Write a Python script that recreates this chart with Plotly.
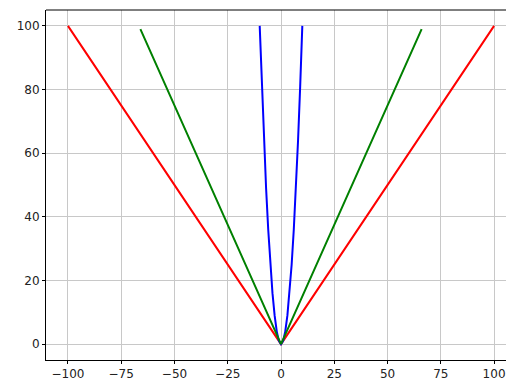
import plotly.graph_objects as go

# Data
red_x = [-100, 0, 100]
red_y = [100, 0, 100]
green_x = [-66, 0, 66]
green_y = [99, 0, 99]
blue_x = [-10, -9, -8, -7, -6, -5, -4, -3, -2, -1, 0, 1, 2, 3, 4, 5, 6, 7, 8, 9, 10]
blue_y = [100, 81, 64, 49, 36, 25, 16, 9, 4, 1, 0, 1, 4, 9, 16, 25, 36, 49, 64, 81, 100]
x_ticks = [-100, -75, -50, -25, 0, 25, 50, 75, 100]
y_ticks = [0, 20, 40, 60, 80, 100]

fig = go.Figure()
fig.add_trace(go.Scatter(x=red_x, y=red_y, mode="lines", line=dict(color="#ff0000", width=2)))
fig.add_trace(go.Scatter(x=blue_x, y=blue_y, mode="lines", line=dict(color="#0000ff", width=2)))
fig.add_trace(go.Scatter(x=green_x, y=green_y, mode="lines", line=dict(color="#008000", width=2)))

axis_common = dict(
    showgrid=True, gridcolor="#c8c8c8", gridwidth=1,
    zeroline=False, showline=True, linecolor="black", linewidth=1,
    ticks="outside", ticklen=3, tickcolor="black", tickwidth=1,
    tickfont=dict(family="DejaVu Sans", size=12, color="#222222"),
    automargin=False,
)

fig.update_layout(
    width=506, height=380,
    margin=dict(l=46, r=0, t=10, b=20),
    plot_bgcolor="white", paper_bgcolor="white",
    showlegend=False,
    xaxis=dict(range=[-110.3, 105.6], tickvals=x_ticks, ticklabeloverflow="allow", **axis_common),
    yaxis=dict(range=[-5, 105], tickvals=y_ticks, **axis_common),
    shapes=[dict(type="line", xref="paper", yref="paper", x0=0, x1=1, y0=1, y1=1,
                 line=dict(color="black", width=1))],
)

fig.write_html(
    "out.html",
    config={"displayModeBar": False},
    post_script="document.body.style.margin='0';document.body.style.overflow='hidden';",
)
